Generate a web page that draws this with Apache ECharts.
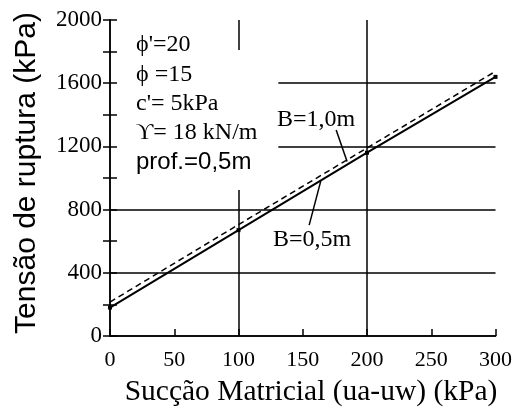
<!DOCTYPE html>
<html><head><meta charset="utf-8">
<script src="https://cdn.jsdelivr.net/npm/echarts@6/dist/echarts.min.js"></script>
<style>html,body{margin:0;padding:0;background:#fff}#c{width:515px;height:411px}</style>
</head><body><div id="c"></div>
<script>
const xTicks = [0, 50, 100, 150, 200, 250, 300];
const yTicks = [0, 400, 800, 1200, 1600, 2000];
const suction = [0, 100, 200, 300];
const b05 = [180, 670, 1160, 1640];   // B=0,5m (solid)
const b10 = [215, 705, 1190, 1675];   // B=1,0m (dashed)
const params = ["ϕ'=20", "ϕ =15", "c'= 5kPa", "ϒ= 18 kN/m", "prof.=0,5m"];
const xTitle = 'Sucção Matricial (ua-uw) (kPa)';
const yTitle = 'Tensão de ruptura (kPa)';

const serif = "'Liberation Serif', 'DejaVu Serif', serif";
const sans = "'Liberation Sans', Arial, sans-serif";
const K = '#000';

const chart = echarts.init(document.getElementById('c'), null, {renderer: 'canvas'});
const lineStyleGrid = {color: K, width: 1.5, type: 'solid'};
chart.setOption({
  animation: false,
  backgroundColor: '#fff',
  grid: {left: 110, right: 18, top: 20, bottom: 75},
  xAxis: [{
    type: 'value', min: 0, max: 300, interval: 50,
    axisLine: {lineStyle: {color: K, width: 1.5}},
    axisTick: {inside: true, length: 7, lineStyle: {color: K, width: 1.5}},
    axisLabel: {fontFamily: serif, fontSize: 22, color: K, margin: 13},
    splitLine: {show: false}
  }, {
    type: 'value', min: 0, max: 300, interval: 50, position: 'top',
    axisLine: {show: true, lineStyle: {color: K, width: 1.5}},
    axisTick: {show: false}, axisLabel: {show: false}, splitLine: {show: false}
  }],
  yAxis: [{
    type: 'value', min: 0, max: 2000, interval: 200,
    axisLine: {show: true, lineStyle: {color: K, width: 1.5}},
    axisTick: {inside: true, length: 7, lineStyle: {color: K, width: 1.5}},
    axisLabel: {fontFamily: serif, fontSize: 23, color: K, margin: 8,
      formatter: v => yTicks.includes(v) ? String(v) : ''},
    splitLine: {show: false}
  }, {
    type: 'value', min: 0, max: 2000, interval: 200, position: 'right',
    axisLine: {show: true, lineStyle: {color: K, width: 1.5}},
    axisTick: {inside: true, length: 7, lineStyle: {color: K, width: 1.5}},
    axisLabel: {show: false}, splitLine: {show: false}
  }],
  series: [
    {
      type: 'line', data: suction.map((x, i) => [x, b05[i]]),
      symbol: 'rect', symbolSize: 4, itemStyle: {color: K},
      lineStyle: {color: K, width: 2}, z: 5,
      markLine: {
        silent: true, symbol: 'none', label: {show: false}, lineStyle: lineStyleGrid,
        data: [
          [{coord: [0, 400]}, {coord: [300, 400]}],
          [{coord: [0, 800]}, {coord: [300, 800]}],
          [{coord: [131, 1200]}, {coord: [300, 1200]}],
          [{coord: [131, 1600]}, {coord: [300, 1600]}],
          [{coord: [200, 0]}, {coord: [200, 2000]}],
          [{coord: [100, 0]}, {coord: [100, 924]}],
          [{coord: [100, 1810]}, {coord: [100, 2000]}],
          [{coord: [176, 1304]}, {coord: [184.5, 1105]}],
          [{coord: [164, 980]}, {coord: [155, 702]}]
        ]
      }
    },
    {
      type: 'line', data: suction.map((x, i) => [x, b10[i]]),
      symbol: 'none',
      lineStyle: {color: K, width: 1.5, type: [6, 4]}, z: 5
    }
  ],
  graphic: [
    ...params.map((t, i) => ({
      type: 'text', x: 136, y: 45 + i * 29.3,
      style: {text: t, font: `24px ${i === 4 ? sans : serif}`, fill: K, verticalAlign: 'middle'}
    })),
    {type: 'text', x: 277, y: 120, style: {text: 'B=1,0m', font: `24px ${serif}`, fill: K, verticalAlign: 'middle'}},
    {type: 'text', x: 273, y: 240, style: {text: 'B=0,5m', font: `24px ${serif}`, fill: K, verticalAlign: 'middle'}},
    {type: 'text', x: 311, y: 392, style: {text: xTitle, font: `29.5px ${serif}`, fill: K, align: 'center', verticalAlign: 'middle'}},
    {type: 'text', x: 27, y: 173, rotation: Math.PI / 2,
      style: {text: yTitle, font: `30px ${sans}`, fill: K, align: 'center', verticalAlign: 'middle'}}
  ]
});
</script></body></html>
